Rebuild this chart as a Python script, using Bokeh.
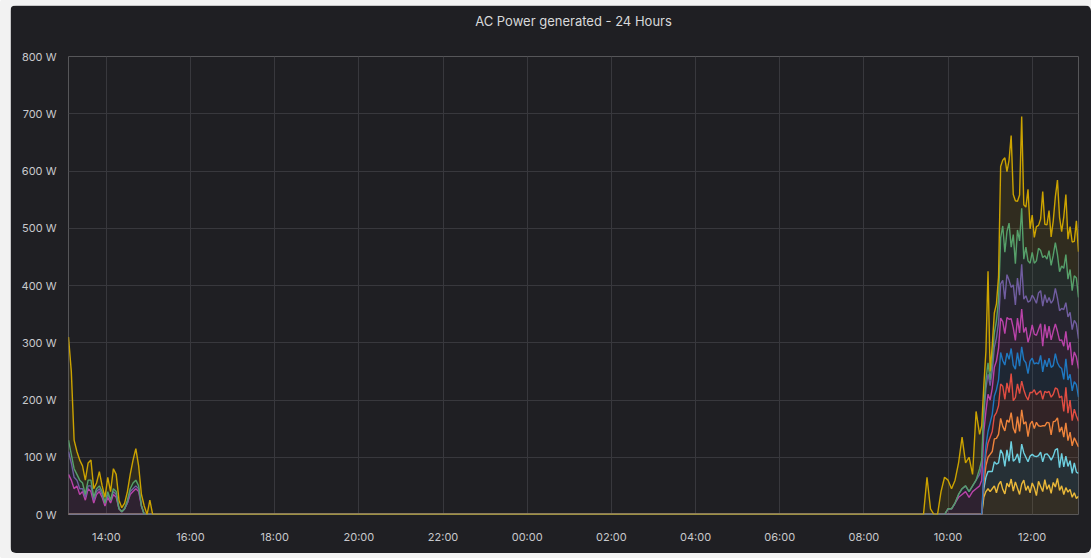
import pandas as pd
from bokeh.plotting import figure
from bokeh.models import (ColumnDataSource, Range1d, FixedTicker, DatetimeTickFormatter,
                          PrintfTickFormatter, Title)
from bokeh.embed import file_html
from bokeh.resources import INLINE

# ---------------- data ----------------
DAY1 = "2023-06-01"
DAY2 = "2023-06-02"
RANGE_START = "13:06"   # day 1
RANGE_END = "13:06"     # day 2
TITLE = "AC Power generated - 24 Hours"

left_times = ["13:06", "13:10", "13:14", "13:18", "13:22", "13:26", "13:30", "13:34", "13:38", "13:42",
              "13:46", "13:50", "13:54", "13:58", "14:02", "14:06", "14:10", "14:14", "14:18", "14:22",
              "14:26", "14:30", "14:34", "14:38", "14:42", "14:46", "14:50", "14:54", "14:58", "15:02", "15:06"]
pre_times = ["09:20", "09:25", "09:30", "09:35", "09:40", "09:45", "09:50", "09:55", "10:00",
             "10:05", "10:10", "10:15", "10:20", "10:25", "10:30", "10:35", "10:40", "10:45"]
main_times = ["10:48", "10:51", "10:54", "10:57", "11:00", "11:03", "11:06", "11:09", "11:12", "11:15",
              "11:18", "11:21", "11:24", "11:27", "11:30", "11:33", "11:36", "11:39", "11:42", "11:45",
              "11:48", "11:51", "11:54", "11:57", "12:00", "12:03", "12:06", "12:09", "12:12", "12:15",
              "12:18", "12:21", "12:24", "12:27", "12:30", "12:33", "12:36", "12:39", "12:42", "12:45",
              "12:48", "12:51", "12:54", "12:57", "13:00", "13:03", "13:06"]

series_names = ["Inverter 1", "Inverter 2", "Inverter 3", "Inverter 4", "Inverter 5",
                "Inverter 6", "Inverter 7", "Inverter 8", "Inverter 9"]
series_colors = ["#EAB839", "#6ED0E0", "#EF843C", "#E24D42", "#1F78C1",
                 "#BA43A9", "#705DA0", "#56A06A", "#CCA300"]

# values in W (individual, stacked in the chart); left block + pre block + main block
inv1 = ([0, 0, 0, 0, 0, 0, 0, 0, 0, 0, 0, 0, 0, 0, 0, 0, 0, 0, 0, 0, 0, 0, 0, 0, 0, 0, 0, 0, 0, 0, 0]
        + [0, 0, 0, 0, 0, 0, 0, 0, 0, 0, 0, 0, 0, 0, 0, 0, 0, 0]
        + [0, 30, 40, 45, 40, 45, 50, 38, 52, 58, 44, 36, 55, 48, 62, 41, 57, 46, 35, 53, 60, 42, 50, 38,
           55, 47, 33, 58, 49, 40, 61, 44, 52, 37, 56, 48, 63, 42, 50, 35, 47, 39, 44, 30, 38, 28, 32])
inv2 = ([0, 0, 0, 0, 0, 0, 0, 0, 0, 0, 0, 0, 0, 0, 0, 0, 0, 0, 0, 0, 0, 0, 0, 0, 0, 0, 0, 0, 0, 0, 0]
        + [0, 0, 0, 0, 0, 0, 0, 0, 0, 0, 0, 0, 0, 0, 0, 0, 0, 0]
        + [0, 15, 25, 30, 35, 30, 42, 50, 38, 55, 62, 48, 58, 45, 66, 52, 40, 60, 55, 70, 48, 58, 42, 64,
           50, 55, 68, 45, 60, 52, 44, 62, 50, 58, 46, 65, 52, 40, 57, 48, 55, 45, 50, 42, 52, 46, 40])
inv3 = ([0, 0, 0, 0, 0, 0, 0, 0, 0, 0, 0, 0, 0, 0, 0, 0, 0, 0, 0, 0, 0, 0, 0, 0, 0, 0, 0, 0, 0, 0, 0]
        + [0, 0, 0, 0, 0, 0, 0, 0, 0, 0, 0, 0, 0, 0, 0, 0, 0, 0]
        + [0, 10, 20, 25, 30, 35, 40, 45, 50, 55, 48, 62, 52, 68, 50, 58, 45, 65, 55, 60, 50, 62, 44, 56,
           58, 48, 60, 52, 45, 63, 50, 55, 58, 44, 60, 50, 54, 62, 46, 52, 58, 45, 50, 48, 44, 52, 46])
inv4 = ([0, 0, 0, 0, 0, 0, 0, 0, 0, 0, 0, 0, 0, 0, 0, 0, 0, 0, 0, 0, 0, 0, 0, 0, 0, 0, 0, 0, 0, 0, 0]
        + [0, 0, 0, 0, 0, 0, 0, 0, 0, 0, 0, 0, 0, 0, 0, 0, 0, 0]
        + [0, 10, 20, 25, 30, 35, 40, 45, 50, 60, 70, 55, 65, 52, 68, 48, 62, 57, 66, 50, 60, 45, 64, 55,
           50, 68, 48, 58, 62, 46, 60, 52, 55, 66, 48, 58, 50, 60, 54, 45, 62, 48, 56, 44, 50, 46, 45])
inv5 = ([0, 0, 0, 0, 0, 0, 0, 0, 0, 0, 0, 0, 0, 0, 0, 0, 0, 0, 0, 0, 0, 0, 0, 0, 0, 0, 0, 0, 0, 0, 0]
        + [0, 0, 0, 0, 0, 0, 0, 0, 0, 0, 0, 0, 0, 0, 0, 0, 0, 0]
        + [0, 10, 15, 20, 25, 30, 35, 40, 45, 55, 45, 60, 52, 58, 44, 62, 50, 55, 48, 60, 52, 58, 46, 55,
           60, 45, 56, 50, 62, 48, 55, 45, 58, 52, 50, 60, 46, 54, 48, 56, 50, 58, 45, 52, 48, 55, 42])
inv6 = ([70, 60, 45, 50, 35, 40, 25, 45, 40, 20, 35, 40, 30, 15, 30, 20, 35, 30, 10, 5, 10, 20, 35, 40,
         45, 40, 15, 0, 0, 0, 0]
        + [0, 0, 0, 0, 0, 0, 0, 0, 10, 10, 20, 30, 35, 40, 30, 40, 45, 50]
        + [60, 70, 60, 65, 40, 45, 50, 50, 55, 60, 68, 55, 62, 70, 52, 65, 50, 60, 58, 66, 48, 62, 55, 45,
           58, 52, 48, 60, 55, 45, 62, 50, 56, 48, 60, 52, 55, 46, 50, 58, 48, 52, 56, 45, 52, 48, 50])
inv7 = ([40, 30, 20, 10, 10, 5, 5, 5, 10, 5, 5, 5, 5, 5, 5, 5, 5, 5, 0, 0, 0, 0, 5, 5, 5, 5, 0, 0, 0, 0, 0]
        + [0, 0, 0, 0, 0, 0, 0, 0, 0, 0, 0, 5, 10, 10, 10, 10, 15, 20]
        + [25, 30, 40, 35, 25, 30, 35, 40, 45, 60, 72, 60, 75, 68, 55, 75, 62, 70, 66, 78, 58, 55, 70, 60,
           52, 62, 56, 64, 58, 70, 52, 62, 50, 64, 55, 62, 58, 52, 55, 64, 50, 58, 52, 62, 55, 58, 52])
inv8 = ([20, 15, 15, 10, 15, 10, 5, 10, 10, 5, 5, 5, 5, 0, 5, 0, 5, 5, 0, 0, 0, 5, 5, 10, 10, 5, 0, 0, 0, 0, 0]
        + [0, 0, 0, 0, 0, 0, 0, 0, 0, 0, 0, 0, 0, 0, 0, 0, 0, 10]
        + [10, 10, 15, 20, 10, 20, 25, 30, 40, 80, 95, 82, 75, 100, 70, 88, 72, 84, 95, 98, 70, 85, 72, 66,
           75, 62, 74, 78, 70, 85, 68, 76, 82, 66, 78, 80, 76, 68, 74, 72, 84, 66, 75, 68, 78, 80, 72])
inv9 = ([180, 145, 50, 40, 35, 30, 25, 30, 35, 15, 10, 25, 10, 10, 25, 15, 35, 30, 15, 7, 10, 15, 25, 40,
         55, 35, 20, 15, 0, 25, 0]
        + [0, 0, 65, 10, 0, 0, 40, 65, 50, 35, 40, 55, 90, 40, 60, 20, 120, 60]
        + [60, 40, 50, 160, 15, 25, 35, 30, 40, 125, 115, 165, 105, 110, 195, 70, 110, 50, 80, 160, 95, 70,
           125, 60, 65, 45, 60, 40, 55, 115, 55, 60, 70, 50, 60, 80, 130, 95, 60, 90, 105, 70, 75, 85, 60,
           100, 80])

y_ticks = [0, 100, 200, 300, 400, 500, 600, 700, 800]
x_tick_labels_day1 = ["14:00", "16:00", "18:00", "20:00", "22:00"]
x_tick_labels_day2 = ["00:00", "02:00", "04:00", "06:00", "08:00", "10:00", "12:00"]

# ---------------- build ----------------
times = pd.to_datetime([f"{DAY1} {t}" for t in left_times] +
                       [f"{DAY2} {t}" for t in pre_times + main_times])
values = [inv1, inv2, inv3, inv4, inv5, inv6, inv7, inv8, inv9]
data = {"t": times}
keys = []
for i, v in enumerate(values):
    k = f"s{i + 1}"
    keys.append(k)
    data[k] = v
src = ColumnDataSource(data)


def ms(s):
    return pd.Timestamp(s).value // 10**6


x_ticks = [ms(f"{DAY1} {t}") for t in x_tick_labels_day1] + [ms(f"{DAY2} {t}") for t in x_tick_labels_day2]

PANEL = "#1f1f23"
GRID = "#38383d"
TEXT = "#c8c9cc"
FONT = "Inter"

p = figure(width=1081, height=548, output_backend="svg", toolbar_location=None,
           x_axis_type="datetime",
           x_range=Range1d(ms(f"{DAY1} {RANGE_START}"), ms(f"{DAY2} {RANGE_END}")),
           y_range=Range1d(0, 800),
           min_border_left=58, min_border_right=13, min_border_top=51, min_border_bottom=39)
p.margin = (5, 0, 5, 10)
p.background_fill_color = PANEL
p.border_fill_color = PANEL
p.outline_line_color = None

# spacer between the frame and the (outermost) title
p.add_layout(Title(text=" ", text_font=FONT, text_font_size="13px", standoff=3), "above")

p.title.text = TITLE
p.title.align = "center"
p.title.vertical_align = "top"
p.title.text_color = "#d8d9da"
p.title.text_font = FONT
p.title.text_font_size = "13px"
p.title.text_font_style = "normal"
p.title.standoff = 10

p.varea_stack(stackers=keys, x="t", color=series_colors, fill_alpha=0.1, source=src)
p.vline_stack(stackers=keys, x="t", color=series_colors, line_width=1.4, source=src)

p.xaxis.ticker = FixedTicker(ticks=x_ticks)
p.xaxis.formatter = DatetimeTickFormatter(minutes="%H:%M", hourmin="%H:%M", hours="%H:%M",
                                          days="%H:%M", months="%H:%M", years="%H:%M")
p.yaxis.ticker = FixedTicker(ticks=y_ticks)
p.yaxis.formatter = PrintfTickFormatter(format="%d W")

for ax in (p.xaxis, p.yaxis):
    ax.axis_line_color = None
    ax.major_tick_line_color = None
    ax.minor_tick_line_color = None
    ax.major_label_text_color = TEXT
    ax.major_label_text_font = FONT
    ax.major_label_text_font_size = "11px"
p.xaxis.major_label_standoff = 9
p.yaxis.major_label_standoff = 6

p.xgrid.grid_line_color = GRID
p.ygrid.grid_line_color = GRID
p.xgrid.grid_line_width = 1
p.ygrid.grid_line_width = 1

p.styles = {"border-radius": "6px", "overflow": "hidden", "box-shadow": "0 0 0 12px #f2f2f2"}

open("out.html", "w").write(file_html(p, INLINE))
